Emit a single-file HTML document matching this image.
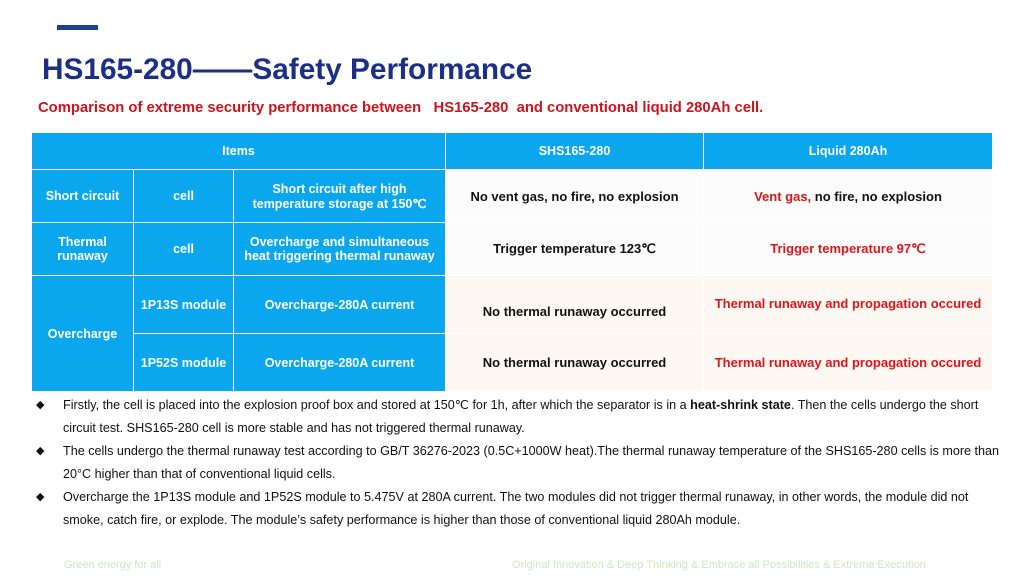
<!DOCTYPE html><html><head><meta charset="utf-8"><style>
body{margin:0;width:1024px;height:576px;background:#fff;font-family:"Liberation Sans",Arial,sans-serif;position:relative;overflow:hidden}
.a{position:absolute}
table{position:absolute;left:31px;top:132px;border-collapse:collapse;font-weight:bold;font-size:12.5px;text-align:center}
td{padding:0;border:1px solid #fff}
.b{background:#0aa7ee;color:#fff}
.w{background:#fcfcfc;color:#111;font-size:13px}
.o{background:#fdf8f1;color:#111;font-size:13px}
.r{color:#e0141c}
ul{position:absolute;left:36px;top:394px;margin:0;padding:0;list-style:none;font-size:12.6px;color:#111;width:972px}
li{position:relative;padding-left:27px;line-height:23px}
li:before{content:"◆";position:absolute;left:0;top:0;font-size:11px}
</style></head><body>
<div class="a" style="left:57px;top:25px;width:41px;height:5px;background:#1f3f8f"></div>
<div class="a" style="left:42px;top:53px;font-size:29.8px;font-weight:bold;color:#1b2f86">HS165-280——Safety Performance</div>
<div class="a" style="left:38px;top:100px;font-size:14.8px;font-weight:bold;color:#d0121b;white-space:pre">Comparison of extreme security performance between   HS165-280  and conventional liquid 280Ah cell.</div>
<table>
<tr style="height:37px"><td class="b" colspan="3" style="width:413px">Items</td><td class="b" style="width:257px">SHS165-280</td><td class="b" style="width:288px">Liquid 280Ah</td></tr>
<tr style="height:53px"><td class="b" style="width:101px">Short circuit</td><td class="b" style="width:99px">cell</td><td class="b" style="width:211px">Short circuit after high<br>temperature storage at 150℃</td><td class="w">No vent gas, no fire, no explosion</td><td class="w"><span class="r">Vent gas,</span> no fire, no explosion</td></tr>
<tr style="height:53px"><td class="b">Thermal<br>runaway</td><td class="b">cell</td><td class="b">Overcharge and simultaneous<br>heat triggering thermal runaway</td><td class="w">Trigger temperature 123℃</td><td class="w r">Trigger temperature 97℃</td></tr>
<tr style="height:58px"><td class="b" rowspan="2">Overcharge</td><td class="b">1P13S module</td><td class="b">Overcharge-280A current</td><td class="o" style="padding-top:14px">No thermal runaway occurred</td><td class="o r" style="padding-bottom:2px">Thermal runaway and propagation occured</td></tr>
<tr style="height:58px"><td class="b">1P52S module</td><td class="b">Overcharge-280A current</td><td class="o">No thermal runaway occurred</td><td class="o r">Thermal runaway and propagation occured</td></tr>
</table>
<ul>
<li>Firstly, the cell is placed into the explosion proof box and stored at 150℃ for 1h, after which the separator is in a <b>heat-shrink state</b>.  Then the cells  undergo the short circuit test. SHS165-280 cell is more stable and has not  triggered thermal runaway.</li>
<li>The cells undergo the thermal runaway test according to GB/T 36276-2023 (0.5C+1000W heat).The thermal runaway temperature of the SHS165-280 cells is more than 20°C higher than that of conventional liquid cells.</li>
<li>Overcharge the 1P13S module and 1P52S module to 5.475V at 280A current. The two modules did not trigger thermal runaway, in other words, the module did not smoke, catch fire, or explode. The module’s safety performance is higher than those of conventional liquid 280Ah module.</li>
</ul>
<div class="a" style="left:64px;top:559px;font-size:11px;color:#cfe6c0">Green energy for all</div>
<div class="a" style="left:512px;top:559px;font-size:11px;color:#cfe6c0">Original Innovation &amp; Deep Thinking &amp; Embrace all Possibilities &amp; Extreme Execution</div>
</body></html>
